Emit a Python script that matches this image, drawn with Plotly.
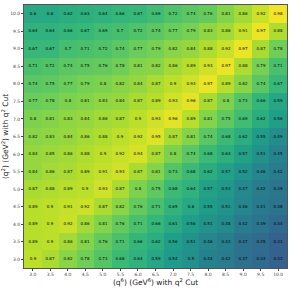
import plotly.graph_objects as go

x_vals = [3.0, 3.5, 4.0, 4.5, 5.0, 5.5, 6.0, 6.5, 7.0, 7.5, 8.0, 8.5, 9.0, 9.5, 10.0]
y_vals = [3.0, 3.5, 4.0, 4.5, 5.0, 5.5, 6.0, 6.5, 7.0, 7.5, 8.0, 8.5, 9.0, 9.5, 10.0]
x_labels = ["%.1f" % v for v in x_vals]
y_labels = ["%.1f" % v for v in y_vals]

# rows listed from y=3.0 (bottom) to y=10.0 (top)
row_3_0 = [0.9, 0.87, 0.82, 0.78, 0.73, 0.68, 0.64, 0.59, 0.54, 0.5, 0.44, 0.42, 0.37, 0.34, 0.31]
row_3_5 = [0.89, 0.9, 0.86, 0.81, 0.76, 0.71, 0.66, 0.62, 0.56, 0.51, 0.46, 0.43, 0.37, 0.35, 0.31]
row_4_0 = [0.89, 0.9, 0.92, 0.86, 0.81, 0.76, 0.71, 0.66, 0.61, 0.56, 0.51, 0.48, 0.42, 0.39, 0.34]
row_4_5 = [0.89, 0.9, 0.91, 0.92, 0.87, 0.82, 0.76, 0.71, 0.65, 0.6, 0.55, 0.51, 0.46, 0.41, 0.38]
row_5_0 = [0.87, 0.88, 0.89, 0.9, 0.93, 0.87, 0.8, 0.75, 0.68, 0.64, 0.57, 0.53, 0.47, 0.42, 0.39]
row_5_5 = [0.84, 0.86, 0.87, 0.89, 0.91, 0.93, 0.87, 0.81, 0.73, 0.68, 0.62, 0.57, 0.52, 0.46, 0.42]
row_6_0 = [0.84, 0.85, 0.86, 0.88, 0.9, 0.92, 0.94, 0.87, 0.8, 0.74, 0.68, 0.63, 0.57, 0.51, 0.45]
row_6_5 = [0.82, 0.83, 0.84, 0.86, 0.88, 0.9, 0.92, 0.95, 0.87, 0.81, 0.74, 0.68, 0.62, 0.55, 0.49]
row_7_0 = [0.8, 0.81, 0.83, 0.84, 0.86, 0.87, 0.9, 0.93, 0.96, 0.89, 0.81, 0.75, 0.69, 0.62, 0.56]
row_7_5 = [0.77, 0.78, 0.8, 0.81, 0.83, 0.84, 0.87, 0.89, 0.93, 0.96, 0.87, 0.8, 0.73, 0.66, 0.59]
row_8_0 = [0.74, 0.75, 0.77, 0.79, 0.8, 0.82, 0.84, 0.87, 0.9, 0.93, 0.97, 0.89, 0.82, 0.74, 0.67]
row_8_5 = [0.71, 0.72, 0.74, 0.75, 0.76, 0.78, 0.81, 0.82, 0.86, 0.89, 0.93, 0.97, 0.88, 0.79, 0.71]
row_9_0 = [0.67, 0.67, 0.7, 0.71, 0.72, 0.74, 0.77, 0.79, 0.82, 0.84, 0.88, 0.92, 0.97, 0.87, 0.78]
row_9_5 = [0.64, 0.64, 0.66, 0.67, 0.69, 0.7, 0.72, 0.74, 0.77, 0.79, 0.83, 0.86, 0.91, 0.97, 0.88]
row_10_0 = [0.6, 0.6, 0.62, 0.63, 0.64, 0.66, 0.67, 0.69, 0.72, 0.74, 0.76, 0.81, 0.86, 0.92, 0.98]

z = [row_3_0, row_3_5, row_4_0, row_4_5, row_5_0, row_5_5, row_6_0, row_6_5,
     row_7_0, row_7_5, row_8_0, row_8_5, row_9_0, row_9_5, row_10_0]
text = [[("%.2f" % v).rstrip("0").rstrip(".") for v in row] for row in z]

fig = go.Figure(go.Heatmap(
    z=z, x=x_labels, y=y_labels, text=text, texttemplate="%{text}",
    textfont=dict(size=4, color="black", family="DejaVu Sans"),
    colorscale="Viridis", zmin=0, zmax=1, showscale=False, xgap=0, ygap=0,
))

fig.update_layout(
    width=291, height=291,
    margin=dict(l=24, r=4, t=5, b=23),
    paper_bgcolor="white", plot_bgcolor="white",
    font=dict(family="DejaVu Sans", color="#333333"),
    xaxis=dict(
        type="category",
        title=dict(text="(q<sup>6</sup>) (GeV<sup>6</sup>) with q<sup>2</sup> Cut",
                   font=dict(size=7.5, color="#222222"), standoff=2),
        tickfont=dict(size=4.5, color="#444444"),
        ticks="outside", ticklen=2, tickwidth=0.6, tickcolor="#444444",
        showline=True, linecolor="#555555", linewidth=0.8, mirror=True,
        automargin=False,
    ),
    yaxis=dict(
        type="category",
        title=dict(text="(q<sup>2</sup>) (GeV<sup>2</sup>) with q<sup>2</sup> Cut",
                   font=dict(size=7.5, color="#222222"), standoff=2),
        tickfont=dict(size=4.5, color="#444444"),
        ticks="outside", ticklen=2, tickwidth=0.6, tickcolor="#444444",
        showline=True, linecolor="#555555", linewidth=0.8, mirror=True,
        automargin=False,
    ),
)

fig.write_html("out.html", config={"displayModeBar": False},
               post_script="document.body.style.margin='0';document.body.style.overflow='hidden';")
